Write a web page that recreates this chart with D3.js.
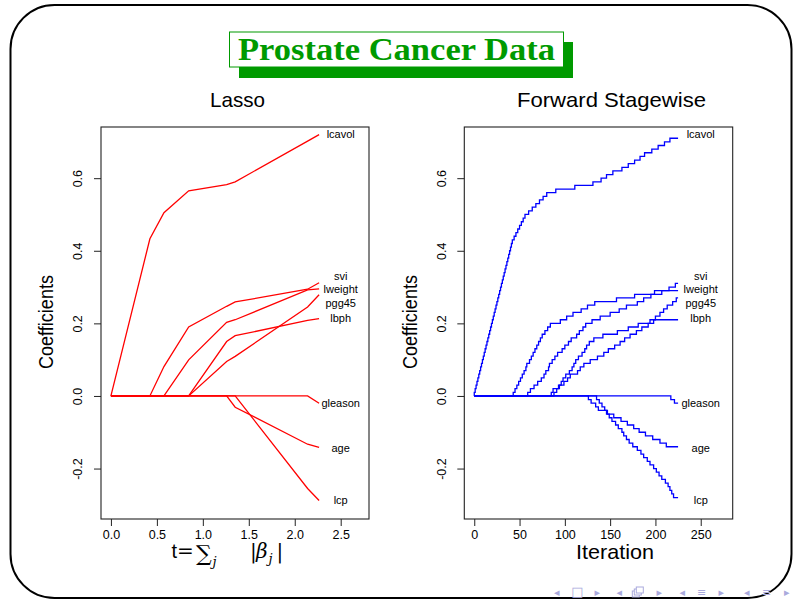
<!DOCTYPE html>
<html>
<head>
<meta charset="utf-8">
<script src="https://cdn.jsdelivr.net/npm/d3@7"></script>
<style>
  body { margin: 0; background: #fff; }
  svg { display: block; }
</style>
</head>
<body>
<svg id="chart" width="793" height="605"></svg>
<script>
// variables, in the order used by every series below
const varNames = ["lcavol", "svi", "lweight", "pgg45", "lbph", "gleason", "age", "lcp"];
// height of each end label (coefficient units), same on both panels
const labelY = [0.72, 0.33, 0.293, 0.257, 0.213, -0.019, -0.144, -0.288];

// lasso: knots of t = sum |beta_j| and each coefficient at those knots
const lassoT       = [0, 0.424, 0.577, 0.846, 1.259, 1.352, 2.140, 2.265];
const lassoLcavol  = [0, 0.433, 0.505, 0.565, 0.582, 0.590, 0.702, 0.720];
const lassoSvi     = [0, 0, 0.081, 0.190, 0.247, 0.259, 0.294, 0.312];
const lassoLweight = [0, 0, 0, 0.0996, 0.203, 0.210, 0.292, 0.295];
const lassoPgg45   = [0, 0, 0, 0, 0.095, 0.109, 0.245, 0.279];
const lassoLbph    = [0, 0, 0, 0, 0.150, 0.166, 0.208, 0.213];
const lassoGleason = [0, 0, 0, 0, 0, 0, 0, -0.020];
const lassoAge     = [0, 0, 0, 0, 0, -0.031, -0.133, -0.142];
const lassoLcp     = [0, 0, 0, 0, 0, 0, -0.255, -0.288];

// forward stagewise: iterations at which each coefficient moved by one step
const stageEps = 0.01, stageLast = 225;
const stageLcavol = [0, 1, 2, 3, 4, 5, 6, 7, 8, 9, 10, 11, 12, 13, 14, 15, 16, 17, 18, 19, 20,
    21, 22, 23, 24, 25, 26, 27, 28, 29, 30, 31, 32, 33, 34, 35, 36, 37, 38, 39, 40, 41, 42,
    44, 46, 48, 50, 52, 54, 56, 60, 64, 68, 72, 76, 80, 90, 111, 131,
    140, 146, 153, 163, 170, 177, 183, 188, 196, 203, 210, 216];
const stageSvi = [43, 45, 47, 49, 51, 53, 55, 57, 58, 61, 63, 65, 67, 69, 71, 73, 75, 78, 81, 84,
    95, 102, 109, 118, 125, 133, 157, 177, 199, 215, 222];
const stageLweight = [59, 62, 66, 70, 74, 77, 79, 82, 83, 86, 89, 92, 97, 100, 104, 107, 113, 116,
    120, 123, 130, 139, 150, 160, 168, 180, 187, 195, 207];
const stagePgg45 = [88, 91, 94, 99, 103, 106, 114, 117, 121, 128, 136, 143, 148, 155, 161, 166,
    172, 179, 185, 192, 198, 200, 205, 209, 213, 219, 223];
const stageLbph = [85, 87, 93, 96, 98, 101, 105, 108, 110, 112, 115, 119, 122, 124, 127, 132,
    142, 158, 170, 181, 194];
const stageGleason = [217, 221];
const stageAge = [126, 129, 134, 137, 147, 154, 162, 169, 176, 182, 189, 197, 205, 212];
const stageLcp = [135, 138, 141, 144, 146, 149, 152, 156, 159, 163, 165, 168, 171, 175, 180, 184,
    187, 191, 194, 198, 201, 204, 207, 211, 214, 216, 218, 220];
const stageSign = [1, 1, 1, 1, 1, -1, -1, -1];

// axis ticks
const lassoTicks = [0, 0.5, 1, 1.5, 2, 2.5];
const stageTicks = [0, 50, 100, 150, 200, 250];
const coefTicks = [-0.2, 0, 0.2, 0.4, 0.6];

const lassoCoefs = [lassoLcavol, lassoSvi, lassoLweight, lassoPgg45, lassoLbph, lassoGleason, lassoAge, lassoLcp];
const stageSteps = [stageLcavol, stageSvi, stageLweight, stagePgg45, stageLbph, stageGleason, stageAge, stageLcp];

const svg = d3.select("#chart");
const sans = "'Liberation Sans', Arial, sans-serif",
    serif = "'DejaVu Serif', 'Liberation Serif', serif",
    green = "#009a00";

// slide frame
svg.append("rect")
    .attr("x", 10.5).attr("y", 5)
    .attr("width", 781).attr("height", 593)
    .attr("rx", 44).attr("ry", 44)
    .attr("fill", "none")
    .attr("stroke", "#000")
    .attr("stroke-width", 2);

// title box with its shadow
svg.append("rect")
    .attr("x", 239).attr("y", 42)
    .attr("width", 334).attr("height", 36)
    .attr("fill", green);
svg.append("rect")
    .attr("x", 229.5).attr("y", 32)
    .attr("width", 334).attr("height", 35)
    .attr("fill", "#fff")
    .attr("stroke", green)
    .attr("stroke-width", 1);
svg.append("text")
    .attr("x", 238).attr("y", 59.5)
    .attr("textLength", 317)
    .attr("lengthAdjust", "spacingAndGlyphs")
    .style("font-family", "'Liberation Serif', 'DejaVu Serif', serif")
    .style("font-weight", "bold")
    .style("font-size", "31px")
    .style("fill", green)
    .text("Prostate Cancer Data");

const y = d3.scaleLinear().domain([-0.339, 0.741]).range([519, 127]);
const fmt1 = (d) => d3.format(".1f")(d).replace("\u2212", "-");

const panels = [
    {
        x: d3.scaleLinear().domain([-0.108, 2.808]).range([101, 369]),
        ticks: lassoTicks, fmt: fmt1, color: "#ff0000",
        title: "Lasso", titleX: 237.5, titleLen: 55, ylabX: 46,
        series: lassoCoefs.map((c) => lassoT.map((t, i) => [t, c[i]])),
        curve: d3.curveLinear, labelAt: 2.5
    },
    {
        x: d3.scaleLinear().domain([-11, 285.3]).range([464.3, 732.7]),
        ticks: stageTicks, fmt: d3.format("d"), color: "#0000ff",
        title: "Forward Stagewise", titleX: 611.5, titleLen: 189, ylabX: 410,
        series: stageSteps.map((s, v) => stagePath(s, stageSign[v])),
        curve: d3.curveStepAfter, labelAt: 250
    }
];

// cumulative coefficient after each iteration, from the listed step iterations
function stagePath(steps, sign) {
    const pts = [[0, 0]];
    let v = 0, j = 0;
    for (let k = 0; k <= stageLast; k++) {
        while (j < steps.length && steps[j] <= k) { v += sign * stageEps; j++; }
        pts.push([k, v]);
    }
    return pts;
}

panels.forEach((p) => {
    const g = svg.append("g"),
        [x0, x1] = p.x.range(),
        [y1, y0] = y.range();

    g.append("text")
        .attr("x", p.titleX).attr("y", 107)
        .attr("text-anchor", "middle")
        .attr("textLength", p.titleLen)
        .attr("lengthAdjust", "spacingAndGlyphs")
        .style("font-family", sans)
        .style("font-size", "21px")
        .text(p.title);

    g.append("text")
        .attr("transform", `translate(${p.ylabX},322) rotate(-90)`)
        .attr("dy", "0.35em")
        .attr("text-anchor", "middle")
        .attr("textLength", 94)
        .attr("lengthAdjust", "spacingAndGlyphs")
        .style("font-family", sans)
        .style("font-size", "20px")
        .text("Coefficients");

    // x axis
    const xa = g.append("g")
        .attr("transform", `translate(0,${y1})`)
        .call(d3.axisBottom(p.x).tickValues(p.ticks).tickFormat(p.fmt).tickSize(7).tickPadding(4.5));
    xa.select(".domain").remove();
    xa.selectAll("line").attr("stroke", "#222");
    xa.selectAll("text")
        .style("font-family", sans)
        .style("font-size", "12.5px")
        .style("fill", "#000");

    // y axis, labels turned parallel to the axis
    const ya = g.append("g")
        .attr("transform", `translate(${x0},0)`)
        .call(d3.axisLeft(y).tickValues(coefTicks).tickFormat(fmt1).tickSize(7));
    ya.select(".domain").remove();
    ya.selectAll("line").attr("stroke", "#222");
    ya.selectAll("text")
        .attr("x", null)
        .attr("dy", "0.35em")
        .attr("text-anchor", "middle")
        .attr("transform", "translate(-23,0) rotate(-90)")
        .style("font-family", sans)
        .style("font-size", "12.5px")
        .style("fill", "#000");

    g.append("rect")
        .attr("x", x0).attr("y", y0)
        .attr("width", x1 - x0).attr("height", y1 - y0)
        .attr("fill", "none")
        .attr("stroke", "#222")
        .attr("stroke-width", 1.1);

    const line = d3.line()
        .x((d) => p.x(d[0]))
        .y((d) => y(d[1]))
        .curve(p.curve);

    g.selectAll(".path")
        .data(p.series)
        .enter().append("path")
        .attr("d", line)
        .attr("fill", "none")
        .attr("stroke", p.color)
        .attr("stroke-width", 1.3);

    g.selectAll(".lab")
        .data(varNames)
        .enter().append("text")
        .attr("x", p.x(p.labelAt))
        .attr("y", (d, i) => y(labelY[i]))
        .attr("dy", "0.35em")
        .attr("text-anchor", "middle")
        .style("font-family", sans)
        .style("font-size", "11px")
        .text((d) => d);
});

// x label of the lasso panel: t = sum_j |beta_j|
const math = svg.append("g").style("font-size", "20px");
math.append("text").attr("x", 171.5).attr("y", 558)
    .style("font-family", sans).text("t");
math.append("text").attr("x", 185.5).attr("y", 558).attr("text-anchor", "middle")
    .style("font-family", serif).text("=");
math.append("text").attr("x", 196).attr("y", 561)
    .style("font-family", serif).style("font-size", "22px").text("\u2211");
math.append("text").attr("x", 212.5).attr("y", 566)
    .style("font-family", serif).style("font-style", "italic").style("font-size", "13px").text("j");
math.append("text").attr("x", 250).attr("y", 558)
    .style("font-family", serif).text("|");
math.append("text").attr("x", 256).attr("y", 558)
    .style("font-family", serif).style("font-style", "italic").text("\u03b2");
math.append("text").attr("x", 268.5).attr("y", 563)
    .style("font-family", serif).style("font-style", "italic").style("font-size", "13px").text("j");
math.append("text").attr("x", 276.5).attr("y", 558)
    .style("font-family", serif).text("|");

svg.append("text")
    .attr("x", 615).attr("y", 559)
    .attr("text-anchor", "middle")
    .attr("textLength", 78)
    .attr("lengthAdjust", "spacingAndGlyphs")
    .style("font-family", sans)
    .style("font-size", "21px")
    .text("Iteration");

// beamer navigation symbols
const navGlyphs = ["\u25c2", "\u25a1", "\u25b8", "\u25c2", "frames", "\u25b8", "\u25c2", "\u2261", "\u25b8", "\u25c2", "\u2261", "\u25b8"];
const navX = [556.7, 577.3, 597.3, 619.3, 637.3, 659.3, 682.3, 701.7, 721.3, 746.7, 766.7, 786.7];
const nav = svg.append("g").style("fill", "#aaaadd").style("stroke", "#aaaadd");
navGlyphs.forEach((s, i) => {
    if (s === "frames") {
        [0, 2, 4].forEach((o) => nav.append("rect")
            .attr("x", navX[i] - 5 + o).attr("y", 591 - o)
            .attr("width", 7).attr("height", 6)
            .attr("fill", "#fff").attr("stroke-width", 1));
    } else {
        nav.append("text")
            .attr("x", navX[i]).attr("y", 596)
            .attr("text-anchor", "middle")
            .style("stroke", "none")
            .style("font-family", "'DejaVu Sans', sans-serif")
            .style("font-size", s === "\u25a1" ? "13px" : "11px")
            .text(s);
    }
});
</script>
</body>
</html>
